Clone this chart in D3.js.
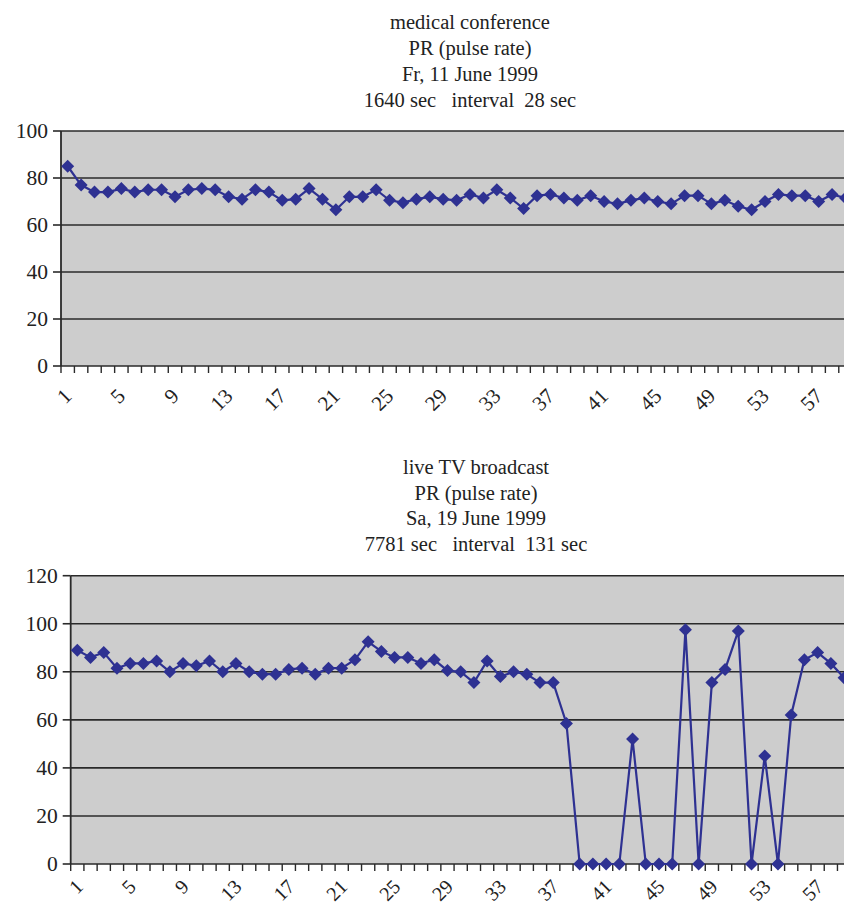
<!DOCTYPE html>
<html>
<head>
<meta charset="utf-8">
<script src="https://cdn.jsdelivr.net/npm/d3@7"></script>
<style>
  html, body { margin: 0; padding: 0; background: #ffffff; }
  svg { display: block; }
  text { font-family: "Liberation Serif", "DejaVu Serif", serif; fill: #222; }
</style>
</head>
<body>
<svg id="chart" width="844" height="908"></svg>
<script>
// ---------- data ----------
const categoryCount = 60;
const categories = d3.range(1, categoryCount + 1);
const tickLabels = [1, 5, 9, 13, 17, 21, 25, 29, 33, 37, 41, 45, 49, 53, 57];

const topTitle = ["medical conference", "PR (pulse rate)", "Fr, 11 June 1999", "1640 sec   interval  28 sec"];
const topYTicks = [0, 20, 40, 60, 80, 100];
const topValues = [85, 77, 74, 74, 75.5, 74, 75, 75, 72, 75,
                   75.5, 75, 72, 71, 75, 74, 70.5, 71, 75.5, 71,
                   66.5, 72, 72, 75, 70.5, 69.5, 71, 72, 71, 70.5,
                   73, 71.5, 75, 71.5, 67, 72.5, 73, 71.5, 70.5, 72.5,
                   70, 69, 70.5, 71.5, 70, 69, 72.5, 72.5, 69, 70.5,
                   68, 66.5, 70, 73, 72.5, 72.5, 70, 73, 71.5];

const bottomTitle = ["live TV broadcast", "PR (pulse rate)", "Sa, 19 June 1999", "7781 sec   interval  131 sec"];
const bottomYTicks = [0, 20, 40, 60, 80, 100, 120];
const bottomValues = [89, 86, 88, 81.5, 83.5, 83.5, 84.5, 80, 83.5, 82.5,
                      84.5, 80, 83.5, 80, 79, 79, 81, 81.5, 79, 81.5,
                      81.5, 85, 92.5, 88.5, 86, 86, 83.5, 85, 80.5, 80,
                      75.5, 84.5, 78, 80, 79, 75.5, 75.5, 58.5, 0, 0,
                      0, 0, 52, 0, 0, 0, 97.5, 0, 75.5, 81,
                      97, 0, 45, 0, 62, 85, 88, 83.5, 77.5];

// ---------- drawing ----------
const svg = d3.select("#chart");
const seriesColor = "#2e3192";
const plotFill = "#cdcdcd";
const gridColor = "#2a2a2a";

function drawPanel(cfg) {
  const g = svg.append("g");
  const x = d3.scaleBand().domain(categories)
    .range([cfg.left, cfg.left + cfg.step * categories.length]).padding(0);
  const y = d3.scaleLinear().domain([0, cfg.yMax]).range([cfg.bottom, cfg.top]);

  // titles
  g.selectAll("text.title").data(cfg.title).join("text")
    .attr("class", "title")
    .attr("x", cfg.titleX)
    .attr("y", (d, i) => cfg.titleY + i * cfg.titleStep)
    .attr("text-anchor", "middle")
    .style("white-space", "pre")
    .style("font-size", "20.5px")
    .text(d => d);

  // plot background
  g.append("rect")
    .attr("x", x.range()[0]).attr("y", y(cfg.yMax))
    .attr("width", x.range()[1] - x.range()[0])
    .attr("height", y(0) - y(cfg.yMax))
    .attr("fill", plotFill);

  // gridlines
  g.selectAll("line.grid").data(cfg.yTicks).join("line")
    .attr("class", "grid")
    .attr("x1", x.range()[0]).attr("x2", x.range()[1])
    .attr("y1", d => y(d)).attr("y2", d => y(d))
    .attr("stroke", gridColor).attr("stroke-width", 1.6);

  // y axis line + ticks + labels
  g.append("line")
    .attr("x1", x.range()[0]).attr("x2", x.range()[0])
    .attr("y1", y(cfg.yMax)).attr("y2", y(0))
    .attr("stroke", gridColor).attr("stroke-width", 1.8);
  g.selectAll("line.yt").data(cfg.yTicks).join("line")
    .attr("class", "yt")
    .attr("x1", x.range()[0] - 8).attr("x2", x.range()[0])
    .attr("y1", d => y(d)).attr("y2", d => y(d))
    .attr("stroke", gridColor).attr("stroke-width", 1.6);
  g.selectAll("text.yl").data(cfg.yTicks).join("text")
    .attr("class", "yl")
    .attr("x", x.range()[0] - 13)
    .attr("y", d => y(d))
    .attr("dy", "0.34em")
    .attr("text-anchor", "end")
    .style("font-size", "21.5px")
    .text(d => d);

  // x ticks (between categories)
  g.selectAll("line.xt").data(categories).join("line")
    .attr("class", "xt")
    .attr("x1", d => x(d)).attr("x2", d => x(d))
    .attr("y1", y(0)).attr("y2", y(0) + 7)
    .attr("stroke", gridColor).attr("stroke-width", 1.4);

  // x labels
  g.selectAll("text.xl").data(tickLabels).join("text")
    .attr("class", "xl")
    .attr("transform", d => `translate(${x(d) + x.bandwidth() / 2 + cfg.labelDx},${y(0) + cfg.labelOffset}) rotate(-45)`)
    .attr("text-anchor", "end")
    .attr("dy", "0.35em")
    .style("font-size", cfg.labelSize)
    .text(d => d);

  // series line
  const pts = cfg.values.map((v, i) => [x(categories[i]) + x.bandwidth() / 2, y(v)]);
  g.append("path")
    .attr("d", d3.line()(pts))
    .attr("fill", "none")
    .attr("stroke", seriesColor)
    .attr("stroke-width", 2.2);

  // diamond markers
  const r = 6.5;
  g.selectAll("path.mk").data(pts).join("path")
    .attr("class", "mk")
    .attr("d", d => `M${d[0]},${d[1] - r}L${d[0] + r},${d[1]}L${d[0]},${d[1] + r}L${d[0] - r},${d[1]}Z`)
    .attr("fill", seriesColor);
}

drawPanel({
  title: topTitle, titleX: 470, titleY: 29, titleStep: 26,
  left: 61, step: 13.41, top: 131, bottom: 366, yMax: 100,
  labelOffset: 26, labelDx: 0, labelSize: "21px",
  yTicks: topYTicks, values: topValues
});

drawPanel({
  title: bottomTitle, titleX: 476, titleY: 474, titleStep: 25.7,
  left: 70.7, step: 13.22, top: 575.7, bottom: 864, yMax: 120,
  labelOffset: 19, labelDx: 2, labelSize: "20px",
  yTicks: bottomYTicks, values: bottomValues
});
</script>
</body>
</html>
